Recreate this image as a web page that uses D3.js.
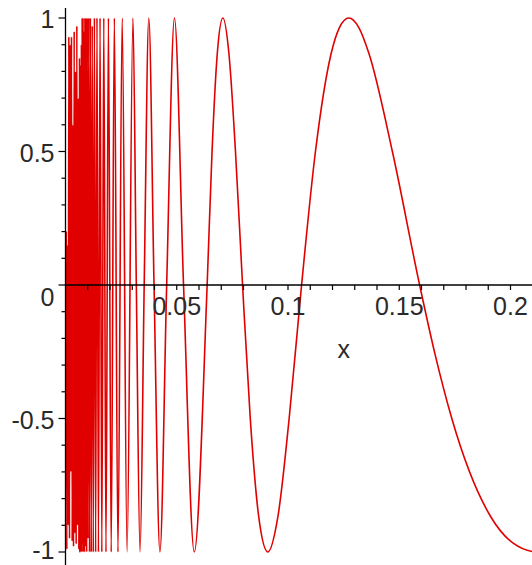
<!DOCTYPE html>
<html>
<head>
<meta charset="utf-8">
<script src="https://cdn.jsdelivr.net/npm/d3@7"></script>
<style>
  html, body { margin: 0; padding: 0; background: #fff; }
  svg { display: block; }
  text { font-family: "Liberation Sans", Arial, sans-serif; fill: #2a2a2a; }
</style>
</head>
<body>
<svg id="chart" width="532" height="565"></svg>
<script>
// ---- data (curve y = sin(1/x)) ----
// densely aliased region next to x = 0
const denseX = [0.0003,0.0006,0.0009,0.0012,0.0015,0.0018,0.0021,0.0024,0.0027,0.0030,
                0.0033,0.0036,0.0039,0.0042,0.0045,0.0048,0.0051,0.0054,0.0057,0.0060];
const denseY = [0.2,-0.99,0.15,-0.9,0.93,-0.95,0.9,-0.7,0.93,-0.96,
                0.6,-0.98,0.95,-0.93,0.8,-0.97,0.97,-0.9,0.7,-0.99];
// oscillation extremes
const peakX = [0.006303,0.006430,0.006563,0.006701,0.006845,0.006996,0.007153,0.007317,0.007490,0.007670,
               0.007860,0.008058,0.008268,0.008488,0.008721,0.008966,0.009226,0.009502,0.009794,0.010105,
               0.010436,0.010790,0.011169,0.011575,0.012012,0.012483,0.012992,0.013545,0.014147,0.014805,
               0.015527,0.016324,0.017206,0.018189,0.019292,0.020536,0.021952,0.023579,0.025465,0.027679];
const peakY = [0.85,-1,0.8,-1,0.82,-0.98,0.9,-1,1,-0.97,
               1,-1,0.95,-1,1,-0.98,1,-1,1,-0.95,
               1,-1,1,-1,0.97,-1,1,-1,1,-1,
               1,-1,1,-1,1,-1,1,-1,1,-1];
// smoother part of the curve
const smoothX = [0.030315,0.031831,0.033506,0.035368,0.037448,0.039789,0.042441,0.045473,0.048971,0.053052,
                 0.057875,0.063662,0.065860,0.068210,0.070736,0.073460,0.076394,0.079577,0.083037,0.086812,
                 0.090946,0.095493,0.100520,0.106103,0.112340,0.119366,0.123220,0.127324,0.131710,0.136418,
                 0.146912,0.159155,0.166070,0.173621,0.190986,0.201040,0.212207,0.225];
const smoothY = [1,0,-1,0,1,0,-1,0,1,0,
                 -1,0,0.5,0.866,1,0.866,0.5,0,-0.5,-0.866,
                 -1,-0.866,-0.5,0,0.5,0.866,0.966,1,0.966,0.866,
                 0.5,0,-0.259,-0.5,-0.866,-0.966,-1,-0.964];

const xMajorTicks = [0.05, 0.1, 0.15, 0.2];
const xMajorLabels = ["0.05", "0.1", "0.15", "0.2"];
const xMinorTicks = [0.01,0.02,0.03,0.04,0.06,0.07,0.08,0.09,0.11,0.12,0.13,0.14,0.16,0.17,0.18,0.19,0.21];
const yMajorTicks = [1, 0.5, 0, -0.5, -1];
const yMajorLabels = ["1", "0.5", "0", "-0.5", "-1"];
const yMinorTicks = [0.9,0.8,0.7,0.6,0.4,0.3,0.2,0.1,-0.1,-0.2,-0.3,-0.4,-0.6,-0.7,-0.8,-0.9];
const xAxisTitle = "x";

// ---- drawing ----
const svg = d3.select("#chart");
const W = 532, H = 565;
const x = d3.scaleLinear().domain([0, 0.2]).range([65.5, 510.5]);
const y = d3.scaleLinear().domain([-1, 1]).range([552, 18]);

const pts = d3.zip(denseX.concat(peakX, smoothX), denseY.concat(peakY, smoothY));

svg.append("defs").append("clipPath").attr("id", "clip")
  .append("rect").attr("x", 65).attr("y", 0).attr("width", W - 65).attr("height", H);

const line = d3.line().x(d => x(d[0])).y(d => y(d[1])).curve(d3.curveMonotoneX);
svg.append("path")
  .attr("clip-path", "url(#clip)")
  .attr("d", line(pts))
  .attr("fill", "none")
  .attr("stroke", "#e00000")
  .attr("stroke-width", 1.6)
  .attr("stroke-linejoin", "round");

// x axis
const gx = svg.append("g").attr("transform", `translate(0,${y(0)})`);
gx.append("line").attr("x1", x(0)).attr("x2", W).attr("y1", 0).attr("y2", 0)
  .attr("stroke", "#000").attr("stroke-width", 1.3);
gx.selectAll("line.tick").data(xMajorTicks.concat(xMinorTicks)).join("line")
  .attr("class", "tick")
  .attr("x1", d => x(d)).attr("x2", d => x(d)).attr("y1", 0).attr("y2", 5)
  .attr("stroke", "#000").attr("stroke-width", 1.2);
gx.selectAll("text").data(xMajorTicks).join("text")
  .attr("x", d => x(d)).attr("y", 30)
  .attr("text-anchor", "middle").attr("font-size", 25)
  .text((d, i) => xMajorLabels[i]);
svg.append("text").attr("x", x(0.125)).attr("y", 358)
  .attr("text-anchor", "middle").attr("font-size", 25).text(xAxisTitle);

// y axis
const gy = svg.append("g").attr("transform", `translate(${x(0)},0)`);
gy.append("line").attr("x1", 0).attr("x2", 0).attr("y1", 8).attr("y2", H)
  .attr("stroke", "#000").attr("stroke-width", 1.3);
gy.selectAll("line.major").data(yMajorTicks).join("line")
  .attr("class", "major")
  .attr("x1", -7).attr("x2", 0).attr("y1", d => y(d)).attr("y2", d => y(d))
  .attr("stroke", "#000").attr("stroke-width", 1.2);
gy.selectAll("line.minor").data(yMinorTicks).join("line")
  .attr("class", "minor")
  .attr("x1", -4).attr("x2", 0).attr("y1", d => y(d)).attr("y2", d => y(d))
  .attr("stroke", "#000").attr("stroke-width", 1.2);
gy.selectAll("text").data(yMajorTicks).join("text")
  .attr("x", -11).attr("y", d => y(d) + (d === 0 ? 21 : d === -1 ? 7 : 10))
  .attr("text-anchor", "end").attr("font-size", 25)
  .text((d, i) => yMajorLabels[i]);
</script>
</body>
</html>
